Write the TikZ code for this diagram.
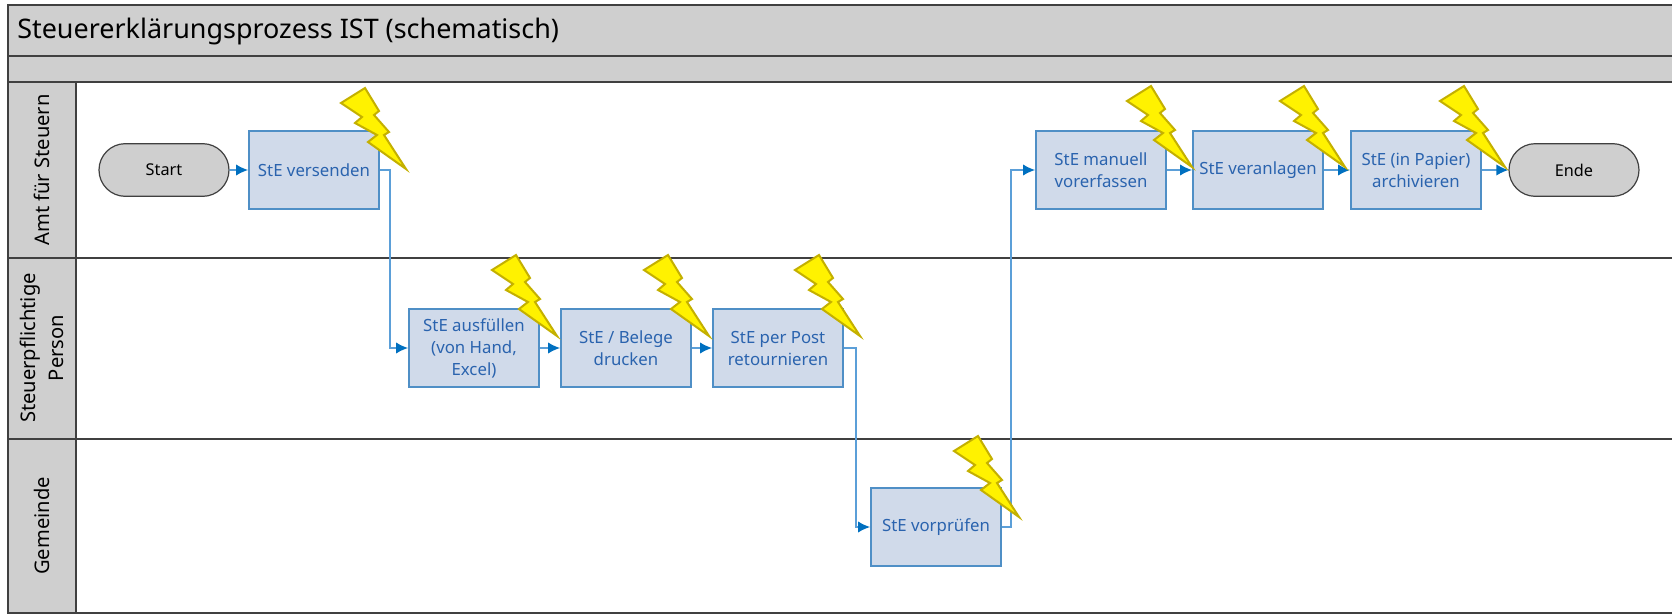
\documentclass[tikz,border=0pt]{standalone}
\usepackage{fontspec}
\setmainfont{Noto Sans}
\usetikzlibrary{arrows.meta,shapes.misc}
\definecolor{bandgray}{HTML}{CFCFCF}
\definecolor{rulegray}{HTML}{404040}
\definecolor{procfill}{HTML}{D0DAEA}
\definecolor{procline}{HTML}{4F8FC6}
\definecolor{proctext}{HTML}{2A63AE}
\definecolor{conline}{HTML}{5B9FD8}
\definecolor{conhead}{HTML}{0070C0}
\definecolor{boltfill}{HTML}{FFF200}
\definecolor{boltline}{HTML}{C4B000}
\tikzset{
  x=0.75pt,y=-0.75pt,
  band/.style={fill=bandgray,draw=none},
  rulel/.style={draw=rulegray,line width=1.6pt},
  procbox/.style={draw=procline,fill=procfill,line width=1.3pt,minimum width=97.5pt,minimum height=58pt,inner sep=0pt,text=proctext,align=center,font=\fontsize{12.6}{16.5}\selectfont},
  terminal/.style={draw=rulegray,fill=bandgray,line width=0.9pt,rounded rectangle,minimum width=97.5pt,minimum height=39.5pt,inner sep=0pt,text=black,font=\fontsize{12.2}{16.5}\selectfont},
  lanelabel/.style={rotate=90,align=center,text=black,inner sep=0pt,font=\fontsize{15.1}{21.5}\selectfont},
  conn/.style={draw=conline,line width=1.25pt,-{Latex[length=9pt,width=8.5pt,color=conhead]}},
  bolt/.style={draw=boltline,fill=boltfill,line width=1.5pt,line join=miter,miter limit=8},
}
\newcommand{\zap}[1]{\draw[bolt,shift={(#1)}] (-41,-81)--(-27,-58)--(-32,-54)--(-17,-37)--(-22,-34)--(0,0)--(-38,-27)--(-29,-34)--(-51,-46)--(-44,-52)--(-65,-66)--cycle;}
\begin{document}
\begin{tikzpicture}
\useasboundingbox (0,0) rectangle (1672,614);
\fill[white] (0,0) rectangle (1672,614);
% bands
\fill[band] (8,5) rectangle (1672,82);
\fill[band] (8,82) rectangle (76,613);
% rules
\draw[rulel] (1672,5)--(8,5)--(8,613)--(1672,613);
\draw[rulel] (8,56)--(1672,56);
\draw[rulel] (8,82)--(1672,82);
\draw[rulel] (8,258)--(1672,258);
\draw[rulel] (8,439)--(1672,439);
\draw[rulel] (76,82)--(76,613);
% headers
\node[anchor=west,inner sep=0pt,text=black,font=\fontsize{20.2}{24}\selectfont] (title) at (17,31) {Steuererklärungsprozess IST (schematisch)};
\node[lanelabel] (laneA) at (42,170) {Amt für Steuern};
\node[lanelabel] (laneB) at (42,348) {Steuerpflichtige\\Person};
\node[lanelabel] (laneC) at (42,526) {Gemeinde};
% process
\node[terminal] (start) at (164,170) {Start};
\node[procbox] (versenden) at (314,170) {StE versenden};
\node[procbox] (ausfuellen) at (474,348) {StE ausfüllen\\(von Hand,\\Excel)};
\node[procbox] (drucken) at (626,348) {StE / Belege\\drucken};
\node[procbox] (retour) at (778,348) {StE per Post\\retournieren};
\node[procbox] (vorpruefen) at (936,527) {StE vorprüfen};
\node[procbox] (erfassen) at (1101,170) {StE manuell\\vorerfassen};
\node[procbox] (veranlagen) at (1258,170) {StE veranlagen};
\node[procbox] (archiv) at (1416,170) {StE (in Papier)\\archivieren};
\node[terminal] (ende) at (1574,170) {Ende};
% connectors
\draw[conn] (start)--(versenden);
\draw[conn] (versenden.east)--++(10,0)|-(ausfuellen.west);
\draw[conn] (ausfuellen)--(drucken);
\draw[conn] (drucken)--(retour);
\draw[conn] (retour.east)--++(12,0)|-(vorpruefen.west);
\draw[conn] (vorpruefen.east)--++(9,0)|-(erfassen.west);
\draw[conn] (erfassen)--(veranlagen);
\draw[conn] (veranlagen)--(archiv);
\draw[conn] (archiv)--(ende);
% bolts
\zap{406,169}
\zap{557,336}
\zap{709,336}
\zap{860,336}
\zap{1019,517}
\zap{1192,167}
\zap{1345,167}
\zap{1505,167}
\end{tikzpicture}
\end{document}
